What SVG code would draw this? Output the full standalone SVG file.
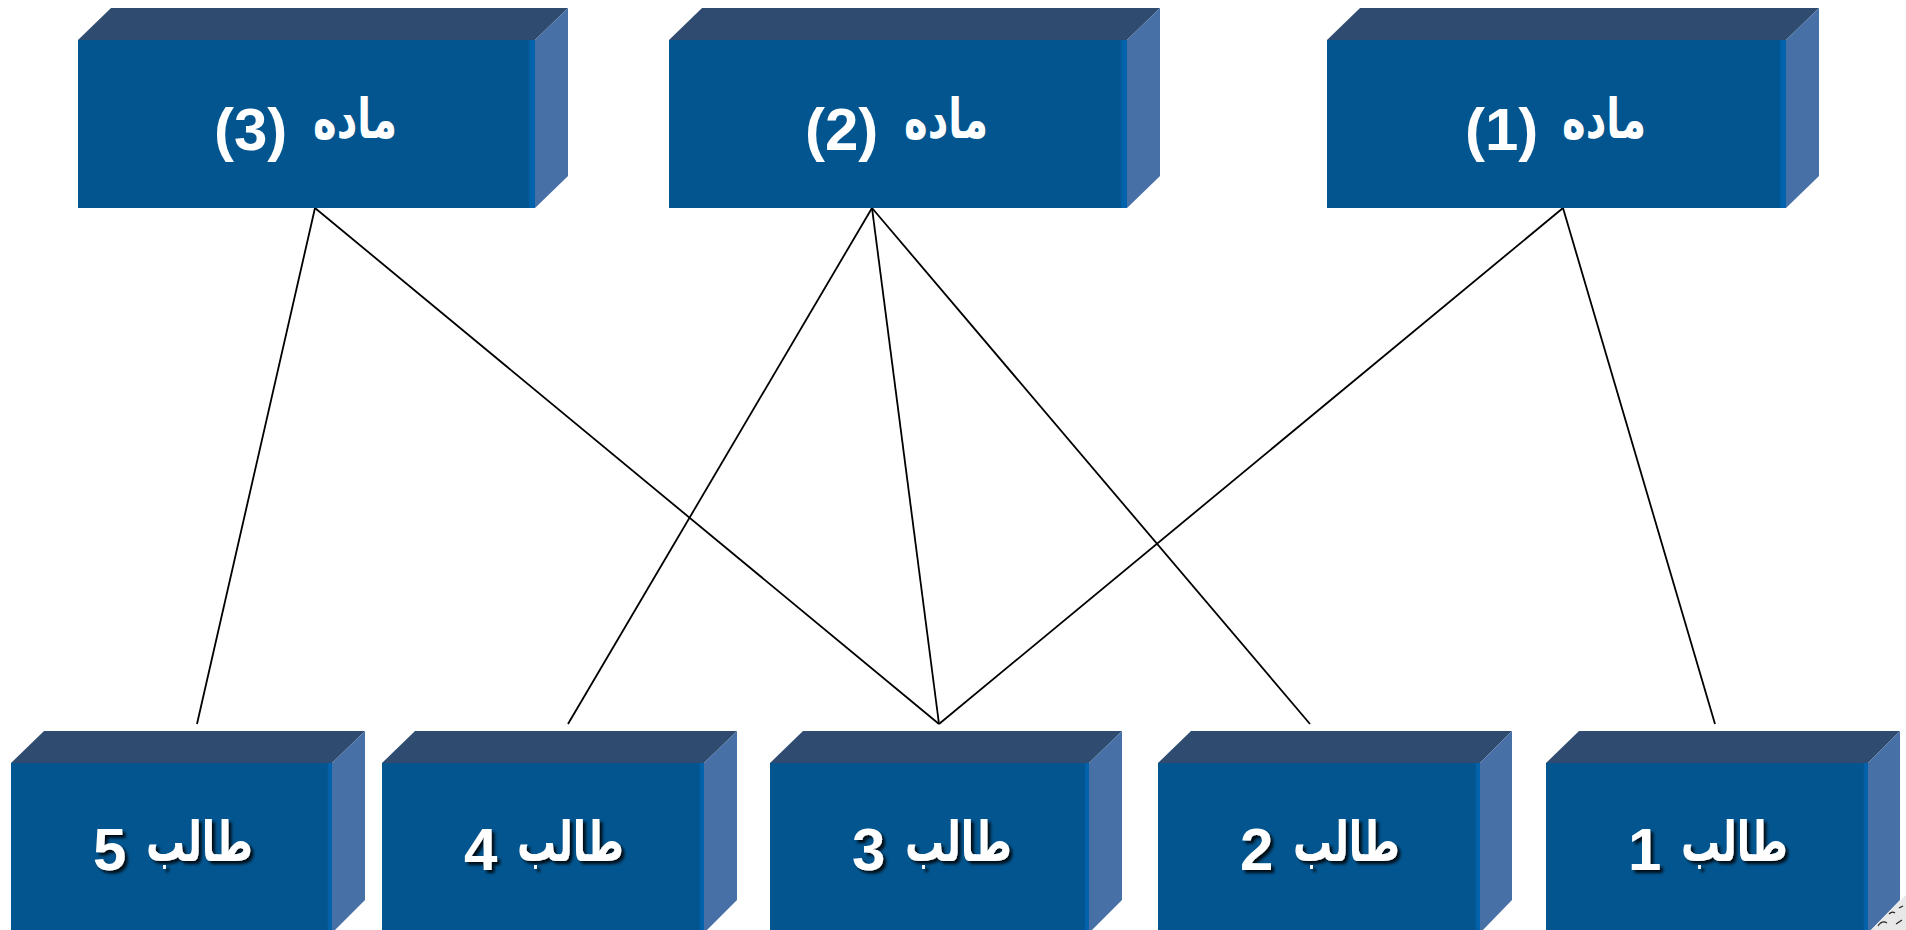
<svg xmlns="http://www.w3.org/2000/svg" width="1906" height="930" viewBox="0 0 1906 930">
<defs>
<linearGradient id="frontGrad" x1="0" y1="0" x2="1" y2="0">
<stop offset="0" stop-color="#02558F"/>
<stop offset="0.985" stop-color="#02558F"/>
<stop offset="0.99" stop-color="#0362AC"/>
<stop offset="1" stop-color="#0362AC"/>
</linearGradient>
<filter id="shadow" x="-10%" y="-20%" width="130%" height="150%">
<feDropShadow dx="3" dy="3" stdDeviation="1.5" flood-color="#000" flood-opacity="0.85"/>
</filter>
</defs>
<style>
.front{fill:url(#frontGrad);}
.top{fill:#2F4C70;}
.side{fill:#4670A6;}
.lbl{font-family:"Liberation Sans","DejaVu Sans",sans-serif;font-weight:bold;font-size:60px;fill:#FFFFFF;text-anchor:start;}
.ar{font-family:"DejaVu Sans",sans-serif;font-size:55px;}
.sh{filter:url(#shadow);}
.conn{stroke:#000;stroke-width:1.8;fill:none;}
</style>
<rect width="1906" height="930" fill="#FFFFFF"/>

<g id="connectors">
<line class="conn" x1="315" y1="208" x2="197" y2="724"/>
<line class="conn" x1="315" y1="208" x2="939" y2="724"/>
<line class="conn" x1="872" y1="208" x2="568" y2="724"/>
<line class="conn" x1="872" y1="208" x2="939" y2="724"/>
<line class="conn" x1="872" y1="208" x2="1310" y2="724"/>
<line class="conn" x1="1563" y1="208" x2="939" y2="724"/>
<line class="conn" x1="1563" y1="208" x2="1715" y2="724"/>
</g>

<g id="subject3">
<polygon class="top" points="78,40 111,8 568,8 535,40"/>
<polygon class="side" points="535,40 568,8 568,176 535,208"/>
<rect class="front" x="78" y="40" width="457" height="168"/>
<text class="lbl"><tspan class="ar" x="313" y="138" textLength="84" lengthAdjust="spacingAndGlyphs">ماده</tspan> <tspan x="214" y="150">(3)</tspan></text>
</g>
<g id="subject2">
<polygon class="top" points="669,40 702,8 1160,8 1127,40"/>
<polygon class="side" points="1127,40 1160,8 1160,176 1127,208"/>
<rect class="front" x="669" y="40" width="458" height="168"/>
<text class="lbl"><tspan class="ar" x="904" y="138" textLength="84" lengthAdjust="spacingAndGlyphs">ماده</tspan> <tspan x="805" y="150">(2)</tspan></text>
</g>
<g id="subject1">
<polygon class="top" points="1327,40 1360,8 1819,8 1786,40"/>
<polygon class="side" points="1786,40 1819,8 1819,176 1786,208"/>
<rect class="front" x="1327" y="40" width="459" height="168"/>
<text class="lbl"><tspan class="ar" x="1562" y="138" textLength="84" lengthAdjust="spacingAndGlyphs">ماده</tspan> <tspan x="1465" y="150">(1)</tspan></text>
</g>

<g id="student5">
<polygon class="top" points="11,763 44,731 365,731 332,763"/>
<polygon class="side" points="332,763 365,731 365,900 332,933"/>
<rect class="front" x="11" y="763" width="321" height="170"/>
<text class="lbl sh"><tspan class="ar" x="146" y="861" textLength="107" lengthAdjust="spacingAndGlyphs">طالب</tspan> <tspan x="93" y="870">5</tspan></text>
</g>
<g id="student4">
<polygon class="top" points="382,763 415,731 737,731 704,763"/>
<polygon class="side" points="704,763 737,731 737,900 704,933"/>
<rect class="front" x="382" y="763" width="322" height="170"/>
<text class="lbl sh"><tspan class="ar" x="517" y="861" textLength="107" lengthAdjust="spacingAndGlyphs">طالب</tspan> <tspan x="464" y="870">4</tspan></text>
</g>
<g id="student3">
<polygon class="top" points="770,763 803,731 1122,731 1089,763"/>
<polygon class="side" points="1089,763 1122,731 1122,900 1089,933"/>
<rect class="front" x="770" y="763" width="319" height="170"/>
<text class="lbl sh"><tspan class="ar" x="905" y="861" textLength="107" lengthAdjust="spacingAndGlyphs">طالب</tspan> <tspan x="852" y="870">3</tspan></text>
</g>
<g id="student2">
<polygon class="top" points="1158,763 1191,731 1512,731 1480,763"/>
<polygon class="side" points="1480,763 1512,731 1512,900 1480,933"/>
<rect class="front" x="1158" y="763" width="322" height="170"/>
<text class="lbl sh"><tspan class="ar" x="1293" y="861" textLength="107" lengthAdjust="spacingAndGlyphs">طالب</tspan> <tspan x="1240" y="870">2</tspan></text>
</g>
<g id="student1">
<polygon class="top" points="1546,763 1579,731 1900,731 1868,763"/>
<polygon class="side" points="1868,763 1900,731 1900,900 1868,933"/>
<rect class="front" x="1546" y="763" width="322" height="170"/>
<text class="lbl sh"><tspan class="ar" x="1681" y="861" textLength="107" lengthAdjust="spacingAndGlyphs">طالب</tspan> <tspan x="1628" y="870">1</tspan></text>
</g>

<g id="corner">
<polygon points="1868,933 1906,895 1906,933" fill="#E8E8E8"/>
<path d="M1878,926 q4,-6 9,-3 M1889,914 q3,-3 6,-1 M1896,924 l6,-4 M1899,908 l4,-2" stroke="#222" stroke-width="1.2" fill="none"/>
</g>
</svg>
